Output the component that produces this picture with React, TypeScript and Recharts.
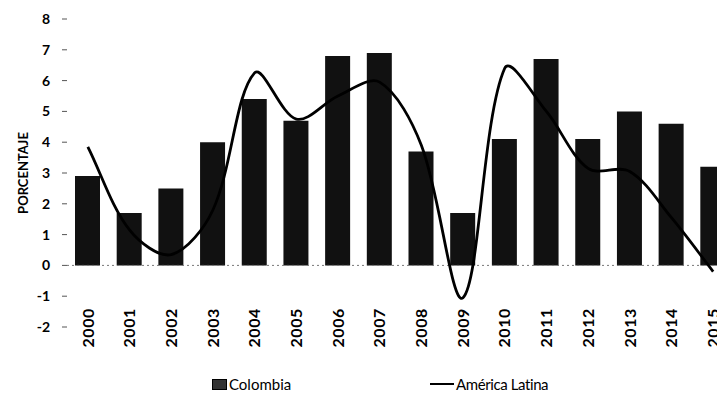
import React from 'react';
import {
    ComposedChart,
    Bar,
    Line,
    XAxis,
    YAxis,
    Legend,
    ReferenceLine,
} from 'recharts';

const years = ['2000', '2001', '2002', '2003', '2004', '2005', '2006', '2007',
    '2008', '2009', '2010', '2011', '2012', '2013', '2014', '2015'];
const colombia = [2.9, 1.7, 2.5, 4.0, 5.4, 4.7, 6.8, 6.9, 3.7, 1.7, 4.1, 6.7, 4.1, 5.0, 4.6, 3.2];
const americaLatina = [3.85, 1.15, 0.35, 1.8, 6.25, 4.75, 5.5, 5.95, 3.9, -1.05, 6.4, 5.0, 3.15, 3.05, 1.55, -0.2];
const yTicks = [-2, -1, 0, 1, 2, 3, 4, 5, 6, 7, 8];

const data = years.map((year, i) => ({
    year,
    colombia: colombia[i],
    america: americaLatina[i],
}));

const font = 'Lato, "Open Sans", sans-serif';

// spreadsheet-style smoothing: bezier segments, tangents scaled by segment length
const smoothCurve = (context: any) => {
    let pts: number[][] = [];
    const dist = (a: number[], b: number[]) => Math.hypot(b[0] - a[0], b[1] - a[1]);
    const t = 1 / 3;
    return {
        areaStart() {},
        areaEnd() {},
        lineStart() {
            pts = [];
        },
        point(x: number, y: number) {
            pts.push([+x, +y]);
        },
        lineEnd() {
            const n = pts.length;
            if (!n) return;
            context.moveTo(pts[0][0], pts[0][1]);
            for (let i = 0; i < n - 1; i++) {
                const p0 = pts[i - 1] || pts[i];
                const p1 = pts[i];
                const p2 = pts[i + 1];
                const p3 = pts[i + 2] || pts[i + 1];
                const d01 = dist(p0, p1);
                const d12 = dist(p1, p2);
                const d23 = dist(p2, p3);
                const k1 = (t * d12) / (d01 + d12 || 1);
                const k2 = (t * d12) / (d12 + d23 || 1);
                context.bezierCurveTo(
                    p1[0] + (p2[0] - p0[0]) * k1,
                    p1[1] + (p2[1] - p0[1]) * k1,
                    p2[0] - (p3[0] - p1[0]) * k2,
                    p2[1] - (p3[1] - p1[1]) * k2,
                    p2[0],
                    p2[1],
                );
            }
        },
    };
};

const YearTick = (props: any) => {
    const { x, payload } = props;
    return (
        <text
            transform={`translate(${x},300) rotate(-90)`}
            textAnchor="end"
            dy="0.36em"
            fontFamily={font}
            fontWeight="bold"
            fontSize={16}
            letterSpacing={0.6}
            fill="#000"
        >
            {payload.value}
        </text>
    );
};

const LegendBox = () => (
    <div
        style={{
            height: 30,
            position: 'relative',
            fontFamily: font,
            fontSize: 15,
            color: '#000',
        }}
    >
        <div style={{ position: 'absolute', left: 204, top: 5, display: 'flex', alignItems: 'center' }}>
            <span
                style={{
                    display: 'inline-block',
                    width: 13,
                    height: 9,
                    background: '#333',
                    border: '1px solid #000',
                    marginRight: 2,
                }}
            />
            <span>Colombia</span>
        </div>
        <div style={{ position: 'absolute', left: 422, top: 5, display: 'flex', alignItems: 'center' }}>
            <span
                style={{
                    display: 'inline-block',
                    width: 24,
                    height: 2,
                    background: '#000',
                    marginRight: 2,
                }}
            />
            <span style={{ letterSpacing: -0.4 }}>América Latina</span>
        </div>
    </div>
);

const App: React.FC = () => {
    return (
        <div style={{ width: 717, height: 402, overflow: 'hidden', background: '#fff' }}>
            <ComposedChart
                width={731}
                height={400}
                data={data}
                margin={{ top: 11, right: 5, left: 0, bottom: 8 }}
                barSize={25}
            >
                <XAxis
                    dataKey="year"
                    axisLine={false}
                    tickLine={false}
                    height={43}
                    tick={<YearTick />}
                    interval={0}
                />
                <YAxis
                    width={59}
                    domain={[-2, 8]}
                    ticks={yTicks}
                    axisLine={false}
                    tickSize={5}
                    tickMargin={12}
                    tickLine={{ stroke: '#555' }}
                    tick={{ fontFamily: font, fontWeight: 'bold', fontSize: 14, fill: '#000' }}
                    label={{
                        value: 'PORCENTAJE',
                        angle: -90,
                        position: 'insideLeft',
                        offset: 15,
                        style: { fontFamily: font, fontWeight: 'bold', fontSize: 13, fill: '#000', textAnchor: 'middle' },
                    }}
                />
                <ReferenceLine y={0} stroke="#777" strokeDasharray="2 3" />
                <Bar dataKey="colombia" name="Colombia" fill="#111" isAnimationActive={false} />
                <Line
                    type={smoothCurve as any}
                    dataKey="america"
                    name="América Latina"
                    stroke="#000"
                    strokeWidth={2.8}
                    dot={false}
                    isAnimationActive={false}
                />
                <Legend verticalAlign="bottom" content={<LegendBox />} />
            </ComposedChart>
        </div>
    );
};

export default App;
